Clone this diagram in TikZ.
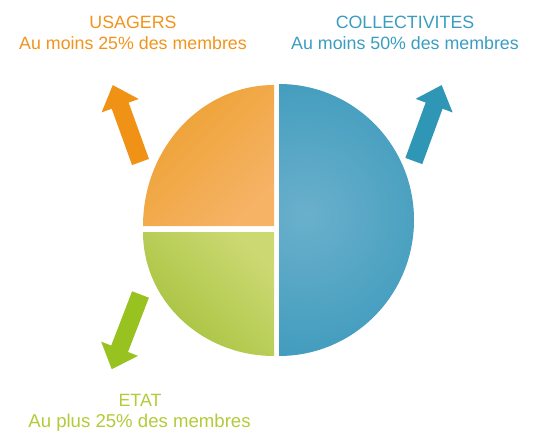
\documentclass[tikz,border=0pt]{standalone}
\usepackage{fontspec}
\setmainfont{Liberation Sans}
\usetikzlibrary{arrows.meta}

\definecolor{usagerscol}{HTML}{F0941C}
\definecolor{collcol}{HTML}{3A9DC0}
\definecolor{etatcol}{HTML}{B3CB3A}
\definecolor{usagersdark}{HTML}{EDA030}
\definecolor{usagerslight}{HTML}{F6B366}
\definecolor{etatdark}{HTML}{A5C13C}
\definecolor{etatlight}{HTML}{CCD973}
\definecolor{colldark}{HTML}{3395B8}
\definecolor{colllight}{HTML}{6AB0CC}
\definecolor{usagersarrow}{HTML}{EF9216}
\definecolor{collarrow}{HTML}{2F96B6}
\definecolor{etatarrow}{HTML}{98C21F}

\begin{document}
\begin{tikzpicture}[x=1pt, y=1pt]
                \tikzset{LabelStyle/.style = {font=\fontsize{17.8}{21}\selectfont, inner sep=0pt, anchor=base},
                         BigArrow/.style = {line width=18pt, -{Triangle[width=38pt, length=22pt]}}}
                \useasboundingbox (0,0) rectangle (545,432);
                % pie pieces
                \shade[left color=usagersdark, right color=usagerslight, shading angle=45]
                  (274,206) -- (143,206) arc[start angle=180, end angle=90, x radius=131pt, y radius=141pt] -- cycle;
                \shade[left color=etatdark, right color=etatlight, shading angle=135]
                  (274,200) -- (143,200) arc[start angle=180, end angle=270, x radius=131pt, y radius=124pt] -- cycle;
                \begin{scope}
                  \clip (279,348) arc[start angle=90, end angle=-90, x radius=135pt, y radius=136pt] -- cycle;
                  \shade[inner color=colllight, outer color=colldark] (305,217) circle (195pt);
                \end{scope}
                % arrows
                \coordinate (U1) at (140.5,270);
                \coordinate (U2) at (112.7,347);
                \coordinate (C1) at (413.8,271);
                \coordinate (C2) at (441.7,347);
                \coordinate (E1) at (140.5,137.5);
                \coordinate (E2) at (111.7,62.7);
                \draw[BigArrow, color=usagersarrow] (U1) -- (U2);
                \draw[BigArrow, color=collarrow] (C1) -- (C2);
                \draw[BigArrow, color=etatarrow] (E1) -- (E2);
                % labels
                \node[LabelStyle, text=usagerscol] (Usagers) at (133,403) {USAGERS};
                \node[LabelStyle, text=usagerscol] (UsagersPart) at (133,382) {Au moins 25\% des membres};
                \node[LabelStyle, text=collcol] (Coll) at (405,403) {COLLECTIVITES};
                \node[LabelStyle, text=collcol] (CollPart) at (405,382) {Au moins 50\% des membres};
                \node[LabelStyle, text=etatcol] (Etat) at (140,26) {ETAT};
                \node[LabelStyle, text=etatcol, font=\fontsize{18.6}{21}\selectfont] (EtatPart) at (139.5,5) {Au plus 25\% des membres};
            \end{tikzpicture}
\end{document}
